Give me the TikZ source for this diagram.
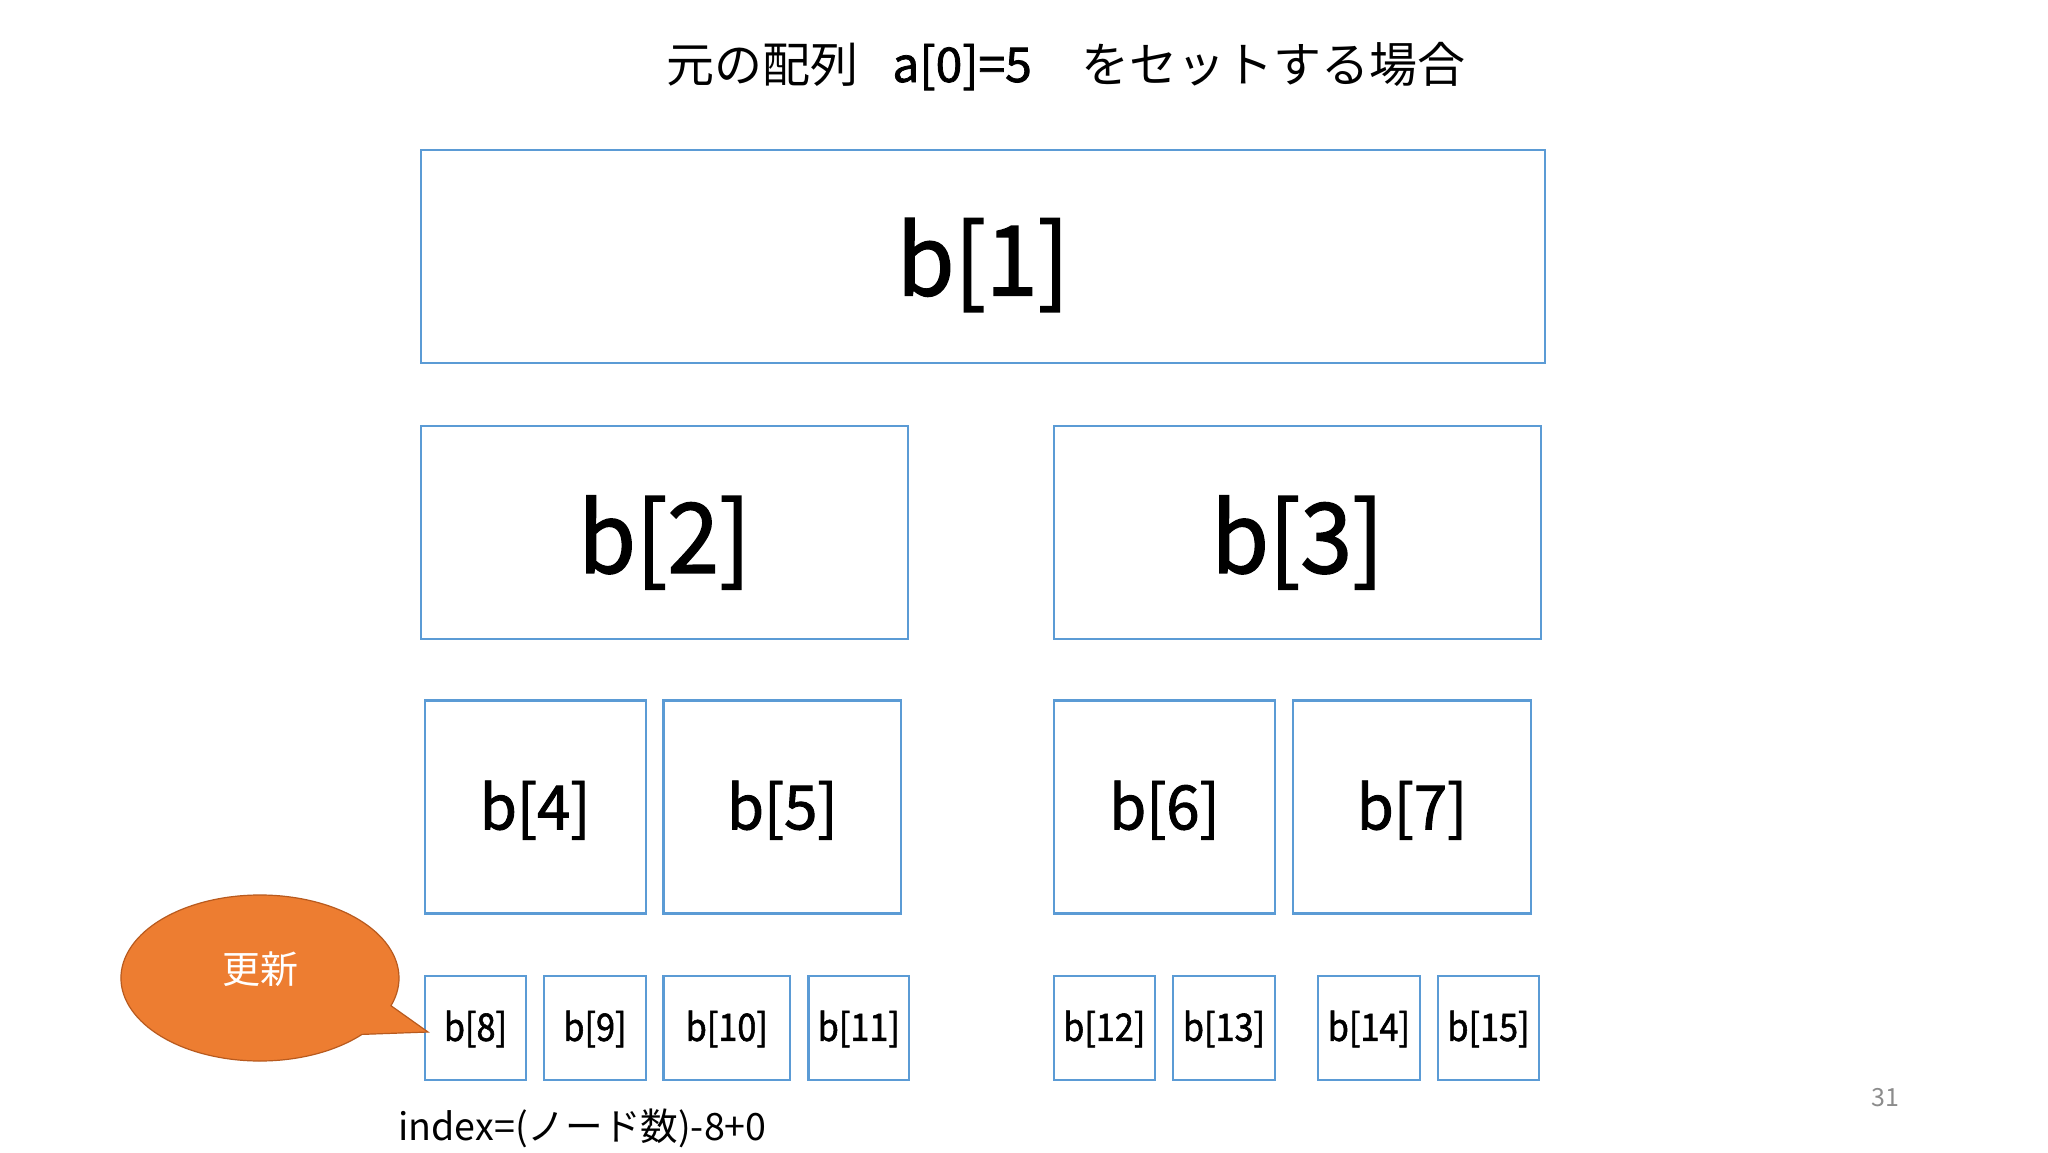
\documentclass[tikz,border=0pt]{standalone}
\usepackage{fontspec}
\setmainfont{Noto Sans CJK JP}
\newfontfamily\heavyfont{Noto Sans CJK JP}[FakeBold=1.6]
\definecolor{boxblue}{HTML}{5B9BD5}
\definecolor{orng}{HTML}{ED7D31}
\definecolor{orngdark}{HTML}{B85A1E}
\definecolor{pgnum}{HTML}{8C8C8C}
\newcommand\sq[2]{\scalebox{#1}[1]{#2}}
\begin{document}
\begin{tikzpicture}[x=0.5pt,y=-0.5pt,
  cell/.style={draw=boxblue, line width=1.1pt, inner sep=0pt, fill=white},
  big/.style={cell, minimum width=562pt, minimum height=106.5pt},
  mid/.style={cell, minimum height=106.5pt},
  small/.style={cell, minimum height=106.5pt},
  leaf/.style={cell, minimum height=52pt},
  lbig/.style={inner sep=0pt, font=\heavyfont\fontsize{48.5}{49}\selectfont},
  lsmall/.style={inner sep=0pt, font=\heavyfont\fontsize{30.5}{31}\selectfont},
  lleaf/.style={inner sep=0pt, font=\heavyfont\fontsize{19}{19}\selectfont},
  ttl/.style={inner sep=0pt, anchor=base west, font=\fontsize{24}{24}\selectfont},
  callout/.style={fill=orng, draw=orngdark, line width=0.6pt}
]
\useasboundingbox (0,0) rectangle (2048,1152);
\fill[white] (0,0) rectangle (2048,1152);

% title
\node[ttl] (t1) at (666,82) {元の配列};
\node[ttl, font=\heavyfont\fontsize{24}{24}\selectfont] (t2) at (892,82) {a[0]=5};
\node[ttl] (t3) at (1081,82) {をセットする場合};

% level 1
\node[big] (b1) at (983,256.5) {};
% level 2
\node[mid, minimum width=243.5pt] (b2) at (664.5,532.5) {};
\node[mid, minimum width=243.5pt] (b3) at (1297.5,532.5) {};
% level 3
\node[small, minimum width=110.5pt] (b4) at (535.2,807) {};
\node[small, minimum width=118.8pt] (b5) at (782.3,807) {};
\node[small, minimum width=110.5pt] (b6) at (1164.5,807) {};
\node[small, minimum width=119pt] (b7) at (1412,807) {};
% level 4
\node[leaf, minimum width=50.5pt] (b8) at (475.5,1028) {};
\node[leaf, minimum width=50.7pt] (b9) at (595,1028) {};
\node[leaf, minimum width=63.3pt] (b10) at (726.8,1028) {};
\node[leaf, minimum width=50.3pt] (b11) at (858.8,1028) {};
\node[leaf, minimum width=50.3pt] (b12) at (1104.3,1028) {};
\node[leaf, minimum width=51pt] (b13) at (1224,1028) {};
\node[leaf, minimum width=50.9pt] (b14) at (1368.9,1028) {};
\node[leaf, minimum width=50.5pt] (b15) at (1488.5,1028) {};

% labels
\node[lbig] (l1) at ([yshift=-4.2pt]b1.center) {\sq{0.96}{b[1]}};
\node[lbig] (l2) at ([yshift=-5pt]b2.center) {\sq{0.96}{b[2]}};
\node[lbig] (l3) at ([yshift=-5pt]b3.center) {\sq{0.96}{b[3]}};
\node[lsmall] (l4) at ([yshift=-1.6pt]b4.center) {\sq{0.98}{b[4]}};
\node[lsmall] (l5) at ([yshift=-1.6pt]b5.center) {\sq{0.98}{b[5]}};
\node[lsmall] (l6) at ([yshift=-1.6pt]b6.center) {\sq{0.98}{b[6]}};
\node[lsmall] (l7) at ([yshift=-1.6pt]b7.center) {\sq{0.98}{b[7]}};
\node[lleaf] (l8) at ([yshift=-0.5pt]b8.center) {\sq{0.9}{b[8]}};
\node[lleaf] (l9) at ([yshift=-0.5pt]b9.center) {\sq{0.9}{b[9]}};
\node[lleaf] (l10) at ([yshift=-0.5pt]b10.center) {\sq{0.9}{b[10]}};
\node[lleaf] (l11) at ([yshift=-0.5pt]b11.center) {\sq{0.9}{b[11]}};
\node[lleaf] (l12) at ([yshift=-0.5pt]b12.center) {\sq{0.9}{b[12]}};
\node[lleaf] (l13) at ([yshift=-0.5pt]b13.center) {\sq{0.9}{b[13]}};
\node[lleaf] (l14) at ([yshift=-0.5pt]b14.center) {\sq{0.9}{b[14]}};
\node[lleaf] (l15) at ([yshift=-0.5pt]b15.center) {\sq{0.9}{b[15]}};

% callout
\coordinate (tip) at (428,1032);
\draw[callout] (tip) -- (391,1005.7)
  arc[start angle=19.5, end angle=-317.2, x radius=139, y radius=83] -- cycle;
\node[text=white, inner sep=0pt, font=\fontsize{19}{19}\selectfont] (upd) at (260,969) {更新};

% index formula
\node[inner sep=0pt, anchor=base west, font=\fontsize{18.8}{19}\selectfont] (idx) at (398,1140) {index=(ノード数)-8+0};

% page number
\node[inner sep=0pt, text=pgnum, font=\fontsize{12.5}{12.5}\selectfont] (pg) at (1885,1098) {31};
\end{tikzpicture}
\end{document}
